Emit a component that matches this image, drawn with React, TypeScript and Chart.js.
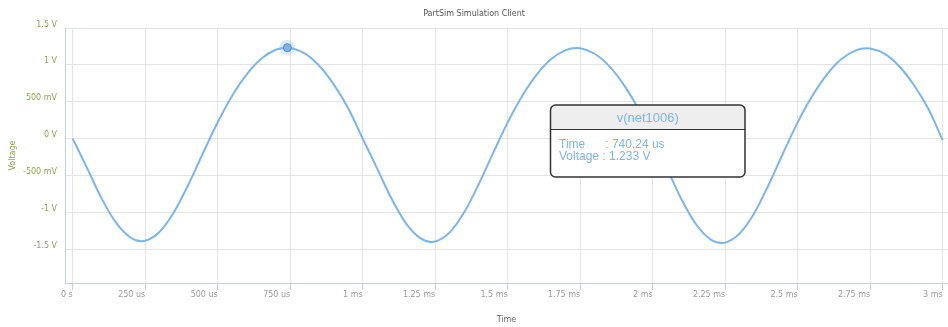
import { useEffect, useRef } from 'react';
import { Chart, registerables } from 'chart.js';

Chart.register(...registerables);

const TITLE = 'PartSim Simulation Client';
const X_TITLE = 'Time';
const Y_TITLE = 'Voltage';
const SERIES_NAME = 'v(net1006)';
const TOOLTIP_LINES = ['Time      : 740.24 us', 'Voltage : 1.233 V'];

// time in ms
const timesMs = [
  0, 0.05, 0.1, 0.15, 0.2, 0.2375, 0.25, 0.3, 0.35, 0.4, 0.45,
  0.5, 0.55, 0.6, 0.65, 0.7, 0.74024, 0.75, 0.8, 0.85, 0.9, 0.95,
  1.0, 1.05, 1.1, 1.15, 1.2, 1.2375, 1.25, 1.3, 1.35, 1.4, 1.45,
  1.5, 1.55, 1.6, 1.65, 1.7, 1.7375, 1.75, 1.8, 1.85, 1.9, 1.95,
  2.0, 2.05, 2.1, 2.15, 2.2, 2.2375, 2.25, 2.3, 2.35, 2.4, 2.45,
  2.5, 2.55, 2.6, 2.65, 2.7, 2.7375, 2.75, 2.8, 2.85, 2.9, 2.95, 3.0,
];
// voltage in V
const voltages = [
  0, -0.403, -0.813, -1.143, -1.343, -1.39, -1.385, -1.262, -0.992, -0.614, -0.191,
  0.222, 0.582, 0.871, 1.083, 1.205, 1.233, 1.23, 1.156, 0.988, 0.736, 0.411,
  0.0, -0.406, -0.819, -1.152, -1.353, -1.4, -1.395, -1.271, -0.999, -0.619, -0.192,
  0.221, 0.579, 0.868, 1.079, 1.2, 1.228, 1.225, 1.151, 0.984, 0.733, 0.409,
  0.0, -0.411, -0.828, -1.164, -1.367, -1.415, -1.41, -1.284, -1.01, -0.625, -0.194,
  0.221, 0.577, 0.865, 1.075, 1.196, 1.224, 1.221, 1.148, 0.981, 0.73, 0.408, -0.02,
];

const HOVER_TIME = 0.74024;
const HOVER_VOLTAGE = 1.233;

const xTickValues = [0, 0.25, 0.5, 0.75, 1, 1.25, 1.5, 1.75, 2, 2.25, 2.5, 2.75, 3];
const xTickLabels = ['0 s', '250 us', '500 us', '750 us', '1 ms', '1.25 ms', '1.5 ms', '1.75 ms', '2 ms', '2.25 ms', '2.5 ms', '2.75 ms', '3 ms'];
const yTickValues = [-1.5, -1, -0.5, 0, 0.5, 1, 1.5];
const yTickLabels = ['-1.5 V', '-1 V', '-500 mV', '0 V', '500 mV', '1 V', '1.5 V'];

const LINE_COLOR = '#7cb5ec';
const Y_COLOR = '#89A54E';
const FONT = '"DejaVu Sans", sans-serif';

const overlayPlugin = {
  id: 'overlay',
  afterDraw(chart: any) {
    const { ctx, chartArea, width } = chart;
    ctx.save();
    // title
    ctx.font = `8px ${FONT}`;
    ctx.fillStyle = '#555555';
    ctx.textAlign = 'center';
    ctx.textBaseline = 'middle';
    ctx.fillText(TITLE, width / 2, 14);
    // x title
    ctx.fillStyle = '#666666';
    ctx.fillText(X_TITLE, (chartArea.left + chartArea.right) / 2, 320);
    // y title
    ctx.save();
    ctx.translate(13, (chartArea.top + chartArea.bottom) / 2);
    ctx.rotate(-Math.PI / 2);
    ctx.fillStyle = Y_COLOR;
    ctx.fillText(Y_TITLE, 0, 0);
    ctx.restore();

    // tooltip box
    const bx = chartArea.left + 485.5;
    const by = chartArea.top + 77;
    const bw = 194.5;
    const bh = 72;
    const hh = 24;
    const r = 5;
    ctx.beginPath();
    ctx.roundRect(bx, by, bw, bh, r);
    ctx.fillStyle = '#ffffff';
    ctx.fill();
    ctx.save();
    ctx.clip();
    ctx.fillStyle = '#eeeeee';
    ctx.fillRect(bx, by, bw, hh);
    ctx.restore();
    ctx.beginPath();
    ctx.moveTo(bx, by + hh + 0.5);
    ctx.lineTo(bx + bw, by + hh + 0.5);
    ctx.strokeStyle = '#333333';
    ctx.lineWidth = 1;
    ctx.stroke();
    ctx.beginPath();
    ctx.roundRect(bx, by, bw, bh, r);
    ctx.lineWidth = 1.5;
    ctx.strokeStyle = '#333333';
    ctx.stroke();

    ctx.fillStyle = LINE_COLOR;
    ctx.font = '13px "Liberation Sans", Arial, sans-serif';
    ctx.textAlign = 'center';
    ctx.textBaseline = 'middle';
    ctx.fillText(SERIES_NAME, bx + bw / 2, by + 13.5);
    ctx.font = '12px "Liberation Sans", Arial, sans-serif';
    ctx.textAlign = 'left';
    ctx.fillText(TOOLTIP_LINES[0], bx + 8.5, by + 39.5);
    ctx.fillText(TOOLTIP_LINES[1], bx + 8.5, by + 52);
    ctx.restore();
  },
};

export default function App() {
  const ref = useRef<HTMLCanvasElement | null>(null);

  useEffect(() => {
    if (!ref.current) return;
    const points = timesMs.map((t, i) => ({ x: t, y: voltages[i] }));
    const hoverIdx = timesMs.indexOf(HOVER_TIME);
    const chart = new Chart(ref.current, {
      type: 'line',
      data: {
        datasets: [
          {
            label: SERIES_NAME,
            data: points,
            borderColor: LINE_COLOR,
            borderWidth: 2,
            cubicInterpolationMode: 'monotone',
            fill: false,
            pointRadius: (c: any) => (c.dataIndex === hoverIdx ? 4 : 0),
            pointBackgroundColor: LINE_COLOR,
            pointBorderColor: '#5a86b8',
            pointBorderWidth: 1,
            order: 1,
          },
          {
            label: 'halo',
            data: [{ x: HOVER_TIME, y: HOVER_VOLTAGE }],
            showLine: false,
            pointRadius: 8,
            pointBackgroundColor: 'rgba(124,181,236,0.25)',
            pointBorderWidth: 0,
            order: 2,
          },
        ],
      },
      options: {
        animation: false,
        responsive: false,
        events: [],
        layout: { autoPadding: false, padding: { top: 28, left: 0, right: 0, bottom: 0 } },
        plugins: { legend: { display: false }, tooltip: { enabled: false }, title: { display: false } },
        scales: {
          x: {
            type: 'linear',
            min: -0.02655,
            max: 3.0183,
            afterBuildTicks: (s: any) => {
              s.ticks = xTickValues.map((v) => ({ value: v }));
            },
            afterFit: (s: any) => {
              s.height = 44;
              s.paddingLeft = 0;
              s.paddingRight = 0;
            },
            grid: {
              color: '#e4e4e4',
              tickColor: '#C0D0E0',
              tickLength: 7,
              drawTicks: true,
            },
            border: { display: true, color: '#C0D0E0', width: 1 },
            ticks: {
              autoSkip: false,
              maxRotation: 0,
              align: 'end',
              padding: 0,
              color: '#999999',
              font: { family: FONT, size: 8 },
              callback: (v: any) => xTickLabels[xTickValues.indexOf(Number(v))] ?? '',
            },
          },
          y: {
            type: 'linear',
            min: -1.957,
            max: 1.5,
            afterBuildTicks: (s: any) => {
              s.ticks = yTickValues.map((v) => ({ value: v }));
            },
            afterFit: (s: any) => {
              s.width = 65;
              s.paddingTop = 0;
              s.paddingBottom = 0;
            },
            grid: { color: '#e4e4e4', drawTicks: false },
            border: { display: true, color: '#C0D0E0', width: 1 },
            ticks: {
              padding: 8,
              labelOffset: -3.5,
              color: Y_COLOR,
              font: { family: FONT, size: 8 },
              callback: (v: any) => yTickLabels[yTickValues.indexOf(Number(v))] ?? '',
            },
          },
        },
      },
      plugins: [overlayPlugin],
    } as any);
    return () => chart.destroy();
  }, []);

  return (
    <div style={{ position: 'fixed', left: 0, top: 0, width: 948, height: 327, background: '#fff' }}>
      <canvas ref={ref} width={948} height={327} style={{ display: 'block' }} />
    </div>
  );
}
